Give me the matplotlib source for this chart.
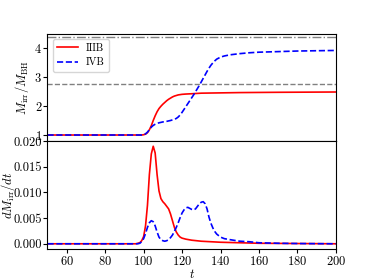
import matplotlib
matplotlib.use("Agg")
import matplotlib.pyplot as plt

plt.rcParams['mathtext.fontset'] = 'cm'
plt.rcParams['font.family'] = 'serif'
plt.rcParams['font.serif'] = ['cmr10', 'DejaVu Serif']
plt.rcParams['axes.formatter.use_mathtext'] = True
plt.rcParams['font.size'] = 9
plt.rcParams['xtick.major.size'] = 2.6
plt.rcParams['ytick.major.size'] = 2.6
plt.rcParams['xtick.major.pad'] = 2.0
plt.rcParams['ytick.major.pad'] = 1.2

# Top panel: M_irr / M_BH
t_top_red = [50, 99, 100, 101, 102, 103, 104, 105, 106, 107, 108, 109, 110, 111, 112, 113,
             114, 115, 116, 117, 118, 120, 122, 125, 130, 140, 150, 170, 200]
m_red = [1.0, 1.0, 1.01, 1.03, 1.08, 1.18, 1.32, 1.50, 1.66, 1.80, 1.91, 1.99, 2.06, 2.12,
         2.18, 2.23, 2.27, 2.31, 2.34, 2.36, 2.38, 2.40, 2.41, 2.42, 2.44, 2.45, 2.46, 2.47, 2.48]

t_top_blue = [50, 99, 100, 101, 102, 103, 104, 105, 106, 107, 108, 110, 112, 114, 116, 117,
              118, 119, 120, 121, 122, 123, 124, 125, 126, 127, 128, 129, 130, 131, 132, 133,
              134, 135, 136, 137, 138, 140, 142, 145, 150, 155, 160, 170, 180, 200]
m_blue = [1.0, 1.0, 1.01, 1.04, 1.10, 1.18, 1.27, 1.33, 1.37, 1.40, 1.42, 1.45, 1.47, 1.50,
          1.54, 1.57, 1.62, 1.69, 1.78, 1.88, 1.98, 2.08, 2.18, 2.28, 2.38, 2.49, 2.60, 2.71,
          2.83, 2.95, 3.07, 3.19, 3.30, 3.40, 3.48, 3.55, 3.61, 3.68, 3.72, 3.76, 3.80, 3.83,
          3.85, 3.87, 3.89, 3.91]

ref_dashdot = 4.36
ref_dashed = 2.76

# Bottom panel: dM_irr/dt
t_bot_red = [50, 96, 98, 99, 100, 101, 102, 103, 104, 105, 106, 107, 108, 109, 110, 111, 112,
             113, 114, 115, 116, 117, 118, 119, 120, 122, 125, 130, 135, 140, 150, 160, 180, 200]
d_red = [0, 0, 0.0002, 0.0006, 0.0014, 0.0035, 0.0075, 0.0135, 0.0175, 0.0190, 0.0177, 0.0135,
         0.0103, 0.0088, 0.0082, 0.0078, 0.0073, 0.0068, 0.0058, 0.0045, 0.0032, 0.0023,
         0.0017, 0.0013, 0.0011, 0.0009, 0.0007, 0.0005, 0.0004, 0.0003, 0.0002, 0.0001,
         0.00005, 0.0]

t_bot_blue = [50, 97, 98, 99, 100, 101, 102, 103, 104, 105, 106, 107, 108, 109, 110, 111, 112,
              113, 114, 115, 116, 117, 118, 119, 120, 121, 122, 123, 124, 125, 126, 127, 128,
              129, 130, 131, 132, 133, 134, 135, 136, 137, 138, 140, 142, 145, 150, 155, 160,
              170, 180, 200]
d_blue = [0, 0, 0.0001, 0.0004, 0.0010, 0.0020, 0.0032, 0.0041, 0.0045, 0.0043, 0.0035,
          0.0023, 0.0013, 0.0008, 0.0006, 0.0005, 0.0006, 0.0008, 0.0012, 0.0017, 0.0024,
          0.0032, 0.0041, 0.0051, 0.0060, 0.0066, 0.0070, 0.0071, 0.0069, 0.0067, 0.0066,
          0.0068, 0.0073, 0.0078, 0.0081, 0.0082, 0.0078, 0.0068, 0.0052, 0.0040, 0.0031,
          0.0024, 0.0019, 0.0013, 0.0010, 0.0008, 0.0005, 0.0004, 0.0002, 0.0001, 0.00005, 0]

fig = plt.figure(figsize=(3.74, 2.80), dpi=100)
ax1 = fig.add_axes([0.127, 0.496, 0.771, 0.383])
ax2 = fig.add_axes([0.127, 0.111, 0.771, 0.385], sharex=ax1)

ax1.plot(t_top_red, m_red, color='red', lw=1.2, label='IIIB')
ax1.plot(t_top_blue, m_blue, color='blue', lw=1.2, ls='--', label='IVB')
ax1.axhline(ref_dashdot, color='gray', lw=1.0, ls='-.')
ax1.axhline(ref_dashed, color='gray', lw=1.0, ls='--')
ax1.set_ylim(0.79, 4.48)
ax1.set_yticks([1, 2, 3, 4])
ax1.set_ylabel(r'$M_{\rm irr}/M_{\rm BH}$', fontsize=9)
ax1.yaxis.set_label_coords(-0.056, 0.5)
ax1.legend(loc='upper left', fontsize=7.5, handlelength=2.0, borderaxespad=0.5)
ax1.tick_params(axis='x', labelbottom=False, length=0)

ax2.plot(t_bot_red, d_red, color='red', lw=1.2)
ax2.plot(t_bot_blue, d_blue, color='blue', lw=1.2, ls='--')
ax2.set_xlim(50, 200)
ax2.set_ylim(-0.001, 0.020)
ax2.set_yticks([0.0, 0.005, 0.010, 0.015, 0.020])
ax2.set_yticklabels(['0.000', '0.005', '0.010', '0.015', '0.020'])
ax2.set_xticks([60, 80, 100, 120, 140, 160, 180, 200])
ax2.set_ylabel(r'$dM_{\rm irr}/dt$', fontsize=9)
ax2.yaxis.set_label_coords(-0.106, 0.5)
ax2.set_xlabel(r'$t$', fontsize=9)
ax2.xaxis.set_label_coords(0.5, -0.175)

fig.savefig('out.png', dpi=100)
